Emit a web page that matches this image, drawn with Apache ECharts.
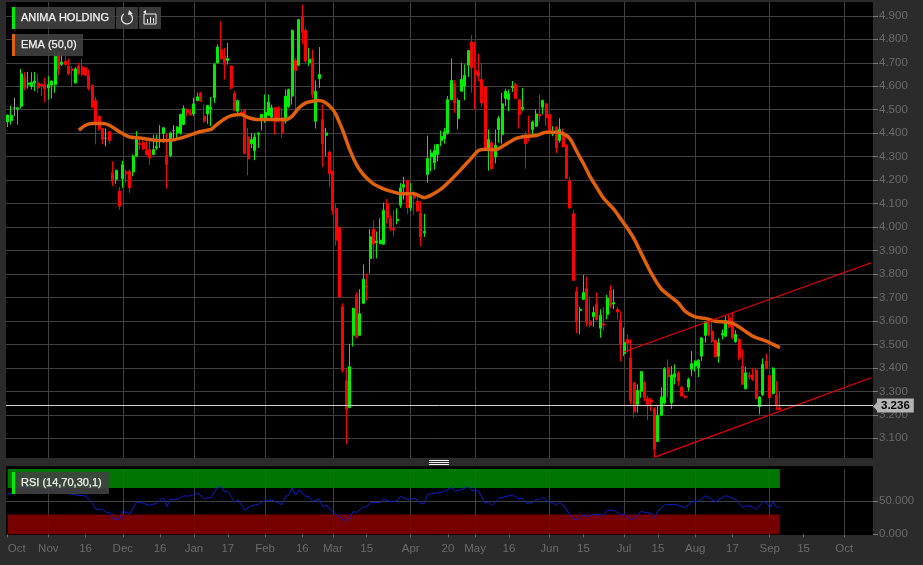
<!DOCTYPE html>
<html><head><meta charset="utf-8">
<script src="https://cdn.jsdelivr.net/npm/echarts@6/dist/echarts.min.js"></script>
<style>html,body{margin:0;padding:0;background:#2b2b2b}#c{width:923px;height:565px}</style>
</head><body><div id="c"></div>
<script>
const instrument = 'ANIMA HOLDING';
const lastPrice = 3.236;
const barSlots = 256;
const axisTickIndex = [0,12,23,34,45,55,65,76,87,96,106,119,130,138,148,160,170,182,192,203,214,225,235,247];
const axisTickLabel = ['Oct','Nov','16','Dec','16','Jan','17','Feb','16','Mar','15','Apr','20','May','16','Jun','15','Jul','15','Aug','17','Sep','15','Oct'];
const monthIndex = [12,34,55,76,96,119,138,160,182,203,225,247];
// [open, close, low, high]
const candles = [
[4.448,4.477,4.426,4.480],[4.454,4.477,4.437,4.517],[4.508,4.508,4.473,4.551],[4.502,4.508,4.437,4.508],
[4.515,4.653,4.505,4.674],[4.636,4.593,4.582,4.660],[4.607,4.614,4.590,4.661],[4.599,4.617,4.586,4.660],
[4.614,4.622,4.579,4.661],[4.614,4.593,4.572,4.653],[4.607,4.602,4.558,4.614],[4.607,4.590,4.532,4.636],
[4.593,4.607,4.543,4.643],[4.605,4.622,4.548,4.625],[4.607,4.728,4.572,4.749],[4.742,4.671,4.647,4.749],
[4.693,4.703,4.686,4.735],[4.707,4.693,4.686,4.728],[4.686,4.654,4.647,4.718],[4.674,4.667,4.600,4.686],
[4.614,4.674,4.612,4.681],[4.686,4.654,4.647,4.700],[4.683,4.650,4.643,4.718],[4.679,4.647,4.643,4.681],
[4.650,4.590,4.582,4.671],[4.603,4.511,4.508,4.607],[4.539,4.448,4.352,4.555],[4.473,4.418,4.411,4.473],
[4.420,4.373,4.352,4.420],[4.379,4.379,4.345,4.420],[4.406,4.369,4.355,4.409],[4.231,4.195,4.174,4.280],
[4.203,4.241,4.184,4.245],[4.153,4.089,4.075,4.170],[4.207,4.266,4.167,4.283],[4.235,4.227,4.188,4.245],
[4.238,4.167,4.146,4.245],[4.235,4.302,4.217,4.309],[4.302,4.373,4.302,4.409],[4.358,4.352,4.330,4.373],
[4.359,4.333,4.330,4.369],[4.326,4.309,4.306,4.366],[4.330,4.295,4.266,4.366],[4.309,4.330,4.306,4.394],
[4.337,4.343,4.330,4.394],[4.366,4.373,4.337,4.434],[4.399,4.423,4.359,4.426],[4.306,4.266,4.164,4.401],
[4.305,4.401,4.299,4.406],[4.411,4.411,4.373,4.434],[4.401,4.426,4.380,4.430],[4.401,4.480,4.394,4.483],
[4.437,4.505,4.434,4.519],[4.501,4.487,4.473,4.505],[4.486,4.480,4.473,4.501],[4.482,4.525,4.473,4.551],
[4.539,4.555,4.536,4.572],[4.572,4.536,4.533,4.576],[4.473,4.451,4.444,4.522],[4.482,4.518,4.440,4.519],
[4.503,4.509,4.430,4.554],[4.551,4.693,4.529,4.700],[4.700,4.767,4.697,4.778],[4.756,4.718,4.714,4.877],
[4.728,4.693,4.629,4.764],[4.710,4.718,4.693,4.785],[4.686,4.593,4.586,4.689],[4.569,4.497,4.494,4.579],
[4.494,4.539,4.482,4.543],[4.490,4.484,4.473,4.501],[4.497,4.313,4.312,4.501],[4.384,4.291,4.221,4.423],
[4.355,4.373,4.337,4.401],[4.326,4.384,4.285,4.401],[4.395,4.401,4.337,4.403],[4.458,4.480,4.411,4.481],
[4.458,4.490,4.444,4.565],[4.477,4.532,4.473,4.565],[4.468,4.508,4.451,4.522],[4.508,4.448,4.394,4.511],
[4.508,4.463,4.448,4.515],[4.465,4.401,4.380,4.508],[4.451,4.558,4.440,4.586],[4.515,4.586,4.508,4.590],
[4.558,4.838,4.522,4.842],[4.710,4.667,4.487,4.721],[4.690,4.884,4.686,4.885],[4.896,4.828,4.778,4.948],
[4.838,4.707,4.693,4.849],[4.700,4.714,4.686,4.764],[4.718,4.565,4.548,4.756],[4.451,4.579,4.420,4.625],
[4.633,4.650,4.593,4.767],[4.458,4.355,4.257,4.522],[4.391,4.401,4.302,4.423],[4.320,4.228,4.171,4.326],
[4.238,4.070,4.053,4.238],[4.080,3.944,3.920,4.100],[3.998,3.702,3.699,4.000],[3.661,3.390,3.380,3.675],
[3.344,3.224,3.074,3.398],[3.231,3.405,3.228,3.503],[3.539,3.654,3.491,3.656],[3.709,3.532,3.526,3.721],
[3.539,3.631,3.536,3.735],[3.675,3.778,3.674,3.841],[3.749,3.744,3.688,3.802],[3.866,3.959,3.802,3.991],
[3.991,3.927,3.863,4.029],[3.934,3.941,3.867,3.981],[3.929,3.944,3.929,4.038],[3.927,4.072,3.927,4.104],
[4.100,4.040,4.015,4.119],[4.036,3.995,3.984,4.050],[3.994,3.988,3.962,4.072],[4.027,4.033,4.012,4.080],
[4.093,4.167,4.082,4.188],[4.170,4.181,4.117,4.214],[4.198,4.082,4.056,4.198],[4.082,4.132,4.068,4.188],
[4.135,4.124,4.053,4.153],[4.110,4.068,4.065,4.142],[4.060,3.958,3.918,4.110],[3.976,3.982,3.958,4.056],
[4.224,4.292,4.188,4.390],[4.299,4.316,4.238,4.330],[4.274,4.326,4.245,4.352],[4.309,4.352,4.280,4.352],
[4.369,4.387,4.345,4.411],[4.377,4.406,4.355,4.423],[4.399,4.543,4.394,4.558],[4.543,4.625,4.540,4.718],
[4.610,4.529,4.487,4.625],[4.463,4.540,4.418,4.548],[4.579,4.629,4.576,4.700],[4.600,4.646,4.540,4.693],
[4.690,4.752,4.640,4.752],[4.789,4.679,4.572,4.818],[4.667,4.650,4.501,4.789],[4.661,4.643,4.622,4.739],
[4.629,4.529,4.511,4.700],[4.597,4.337,4.328,4.597],[4.337,4.373,4.241,4.416],[4.359,4.249,4.247,4.366],
[4.299,4.349,4.271,4.416],[4.416,4.463,4.359,4.473],[4.394,4.525,4.355,4.572],[4.548,4.579,4.515,4.590],
[4.543,4.568,4.494,4.586],[4.594,4.600,4.576,4.622],[4.607,4.548,4.546,4.614],[4.543,4.480,4.420,4.543],
[4.504,4.511,4.494,4.593],[4.391,4.355,4.249,4.409],[4.390,4.384,4.366,4.475],[4.416,4.448,4.391,4.454],
[4.430,4.482,4.426,4.501],[4.480,4.474,4.451,4.565],[4.511,4.539,4.480,4.543],[4.525,4.465,4.430,4.529],
[4.480,4.406,4.401,4.480],[4.400,4.406,4.387,4.430],[4.426,4.337,4.316,4.430],[4.369,4.416,4.359,4.463],
[4.401,4.342,4.340,4.420],[4.349,4.207,4.205,4.352],[4.198,4.082,4.079,4.214],[4.057,3.773,3.770,4.072],
[3.725,3.596,3.547,3.745],[3.644,3.650,3.543,3.660],[3.692,3.721,3.689,3.796],[3.738,3.593,3.576,3.789],
[3.600,3.582,3.572,3.704],[3.618,3.636,3.575,3.661],[3.671,3.607,3.603,3.721],[3.569,3.624,3.529,3.650],
[3.588,3.582,3.560,3.660],[3.628,3.697,3.607,3.711],[3.731,3.664,3.654,3.753],[3.672,3.678,3.650,3.735],
[3.650,3.638,3.607,3.660],[3.603,3.501,3.427,3.640],[3.461,3.508,3.450,3.572],[3.522,3.505,3.465,3.543],
[3.443,3.259,3.245,3.521],[3.337,3.212,3.188,3.337],[3.245,3.304,3.209,3.330],[3.301,3.384,3.273,3.387],
[3.337,3.273,3.259,3.344],[3.269,3.245,3.177,3.280],[3.262,3.255,3.216,3.273],[3.226,3.053,3.020,3.233],
[3.086,3.198,3.086,3.238],[3.198,3.276,3.195,3.318],[3.252,3.396,3.245,3.403],[3.401,3.361,3.273,3.436],
[3.250,3.370,3.226,3.408],[3.361,3.375,3.330,3.415],[3.379,3.344,3.323,3.386],[3.318,3.280,3.277,3.323],
[3.280,3.274,3.270,3.283],[3.318,3.351,3.301,3.358],[3.394,3.418,3.365,3.472],[3.408,3.429,3.384,3.432],
[3.401,3.433,3.361,3.436],[3.450,3.528,3.429,3.531],[3.538,3.596,3.507,3.599],[3.599,3.542,3.535,3.606],
[3.557,3.514,3.507,3.596],[3.517,3.448,3.443,3.521],[3.450,3.507,3.422,3.526],[3.540,3.547,3.521,3.564],
[3.535,3.602,3.531,3.620],[3.613,3.574,3.571,3.630],[3.596,3.528,3.521,3.637],[3.511,3.543,3.507,3.560],
[3.521,3.443,3.432,3.526],[3.408,3.330,3.327,3.479],[3.311,3.379,3.308,3.405],[3.368,3.362,3.351,3.382],
[3.370,3.351,3.344,3.401],[3.391,3.270,3.266,3.401],[3.235,3.276,3.202,3.280],[3.287,3.415,3.280,3.440],
[3.429,3.398,3.394,3.460],[3.368,3.273,3.228,3.370],[3.291,3.398,3.287,3.403],[3.283,3.242,3.219,3.344],
[3.230,3.223,3.219,3.299]
];
// [bar index, value]
const ema = [
[21,4.413],[23,4.434],[25,4.441],[28,4.441],[30,4.434],[33,4.406],[36,4.384],[39,4.380],[42,4.373],[45,4.369],
[48,4.370],[51,4.379],[54,4.393],[57,4.407],[60,4.416],[62,4.440],[64,4.461],[66,4.475],[69,4.480],[71,4.467],
[74,4.458],[78,4.458],[82,4.458],[84,4.473],[86,4.508],[88,4.529],[90,4.536],[92,4.539],[94,4.529],[96,4.501],
[97,4.477],[98,4.444],[99,4.409],[101,4.330],[103,4.266],[105,4.224],[108,4.184],[111,4.163],[114,4.149],[116,4.142],
[120,4.142],[123,4.125],[125,4.136],[128,4.163],[131,4.203],[134,4.248],[137,4.295],[139,4.326],[141,4.332],[144,4.330],
[147,4.352],[150,4.377],[153,4.387],[156,4.390],[159,4.404],[162,4.404],[164,4.398],[166,4.377],[168,4.323],[170,4.271],
[172,4.214],[174,4.167],[176,4.122],[179,4.075],[181,4.035],[183,3.994],[185,3.949],[187,3.890],[190,3.804],[193,3.736],
[198,3.677],[200,3.642],[203,3.617],[206,3.611],[209,3.599],[212,3.595],[214,3.591],[216,3.574],[218,3.554],[220,3.535],
[222,3.524],[224,3.514],[226,3.500],[228,3.486]
];
const upperTrend = [[182,3.469],[255,3.848]];
const lowerTrend = [[191,3.020],[255,3.358]];
const rsi = [
[0,61.1],[2,62.1],[3,68.2],[4,71.2],[6,69.7],[8,64.6],[10,63.1],[12,64.6],[14,70.7],[16,67.2],[18,62.1],[20,59.6],[23,58.1],
[25,47],[26,37.9],[28,37.9],[29,33.3],[30,33.3],[31,24.2],[33,21.7],[34,35.4],[35,32.8],[36,30.8],[38,48],[39,48.5],[42,43.9],
[44,47.5],[46,55],[47,41.9],[48,53],[50,53],[52,58.1],[54,58.1],[56,63.1],[58,54],[60,56],[62,70.7],[63,72.2],[64,64.6],[65,64.6],
[67,48.5],[68,52],[70,36.9],[72,43.4],[74,45.5],[76,51],[78,52],[81,44.9],[82,57],[83,59.6],[84,69.7],[85,59.6],[86,67.2],
[88,57.6],[89,57.1],[90,50],[92,53.5],[93,41.9],[94,44.4],[96,33.3],[98,26.8],[99,21.7],[100,21.2],[101,25.8],[102,34.3],[103,33.3],
[105,41.4],[106,41.4],[107,48],[110,48],[111,53.5],[113,49.5],[115,50.5],[116,57.6],[118,52.5],[120,54.5],[121,52],[122,46],[123,47],
[124,60.6],[126,62.1],[129,64.6],[131,71.2],[132,65.2],[134,67.7],[136,72.2],[137,66.7],[139,65.7],[141,47],[142,48.5],[143,43.4],
[145,54.5],[149,59.6],[151,53.5],[152,54.5],[153,47],[155,48],[156,53],[157,53],[158,56],[160,47.5],[161,48],[162,43.9],[163,48.5],
[164,44.4],[167,23.2],[168,22.2],[170,29.8],[171,26.8],[173,30.3],[176,28.8],[177,36.4],[179,36.4],[181,30],[182,30.5],[184,23],
[185,24],[187,34.5],[189,32.5],[190,31.5],[191,25.5],[192,35.5],[194,44.5],[197,45.5],[200,40.5],[202,49],[204,50.5],[206,58.5],
[209,49.5],[212,58.5],[215,53],[217,40.5],[218,43.5],[220,41.5],[221,37.5],[223,49.5],[224,48.5],[225,40.5],[226,49],[227,41.5],[228,40.5]
];
const rsiBands = [[70,100,'#008000'],[0,30,'#800000']];

const FONT = '"Liberation Sans", Arial, sans-serif';
const PANEL = '#2b2b2b', GRID = '#404040', AXIS_TEXT = '#6b6b6b';
const categories = Array.from({length: barSlots}, (_, i) => String(i));
const labelAt = new Map(axisTickIndex.map((v, k) => [v, axisTickLabel[k]]));
const lastBar = candles.length - 1;

const gridLines = () => ({
  silent: true, symbol: 'none', animation: false, z: 1,
  label: {show: false},
  lineStyle: {color: GRID, width: 1, type: 'solid'},
  data: monthIndex.map(i => ({xAxis: i}))
});

const chart = echarts.init(document.getElementById('c'), null, {renderer: 'canvas'});

function chip(x, y, w, h, stripe, text) {
  return [
    {type: 'rect', z: 200, shape: {x, y, width: w, height: h}, style: {fill: 'rgba(66,66,66,0.88)'}},
    {type: 'rect', z: 201, shape: {x, y, width: 3, height: h}, style: {fill: stripe}},
    {type: 'text', z: 202, x: x + 9, y: y + h / 2, style: {text, fill: '#f2f2f2', font: '11px ' + FONT, verticalAlign: 'middle', stroke: '#f2f2f2', lineWidth: 0.25}}
  ];
}

chart.setOption({
  animation: false,
  backgroundColor: PANEL,
  textStyle: {fontFamily: FONT},
  grid: [
    {left: 6, right: 50, top: 1, bottom: 103.23, show: true, backgroundColor: '#000', borderWidth: 0},
    {left: 6, right: 50, top: 468.3, bottom: 30.7, show: true, backgroundColor: '#000', borderWidth: 0}
  ],
  xAxis: [
    {type: 'category', gridIndex: 0, data: categories, boundaryGap: true,
     axisLine: {show: false}, axisTick: {show: false}, axisLabel: {show: false}, splitLine: {show: false}},
    {type: 'category', gridIndex: 1, data: categories, boundaryGap: true,
     axisLine: {show: true, lineStyle: {color: '#000', width: 1}},
     axisTick: {show: true, alignWithLabel: true, length: 3, interval: i => labelAt.has(i), lineStyle: {color: '#6a6a6a'}},
     axisLabel: {show: true, interval: i => labelAt.has(i), formatter: (v, i) => labelAt.get(i) || '',
       color: AXIS_TEXT, fontSize: 11.5, fontFamily: FONT, margin: 9, alignMinLabel: 'left', hideOverlap: false},
     splitLine: {show: false}}
  ],
  yAxis: [
    {type: 'value', gridIndex: 0, position: 'right', min: 3, max: 4.9633, interval: 0.1,
     axisLine: {show: false},
     axisTick: {show: true, length: 5, lineStyle: {color: '#7a7a7a'}},
     axisLabel: {show: true, showMinLabel: false, showMaxLabel: false, formatter: v => v.toFixed(3), color: AXIS_TEXT, fontSize: 11.5, fontFamily: FONT, margin: 6},
     splitLine: {show: true, lineStyle: {color: GRID, width: 1}}},
    {type: 'value', gridIndex: 1, position: 'right', min: 0, max: 100, interval: 50,
     axisLine: {show: false},
     axisTick: {show: true, length: 5, lineStyle: {color: '#7a7a7a'}},
     axisLabel: {show: true, showMaxLabel: false, formatter: v => v.toFixed(3), color: AXIS_TEXT, fontSize: 11.5, fontFamily: FONT, margin: 6},
     splitLine: {show: true, lineStyle: {color: GRID, width: 1}}}
  ],
  series: [
    {type: 'line', name: 'gridA', xAxisIndex: 0, yAxisIndex: 0, data: [], z: 1, markLine: gridLines()},
    {type: 'line', name: 'gridB', xAxisIndex: 1, yAxisIndex: 1, data: [], z: 1, markLine: gridLines()},
    {type: 'candlestick', name: instrument, xAxisIndex: 0, yAxisIndex: 0, data: candles, barWidth: 2.5, z: 3, clip: false,
     itemStyle: {color: '#00ee00', color0: '#ff0000', borderColor: '#00ee00', borderColor0: '#ff0000', borderColorDoji: '#9a9a9a', borderWidth: 1}},
    {type: 'line', name: 'EMA', xAxisIndex: 0, yAxisIndex: 0, data: ema, showSymbol: false, smooth: 0.25, z: 4,
     lineStyle: {color: '#e0600c', width: 3.5}, itemStyle: {color: '#e0600c'}},
    {type: 'line', name: 'upper', xAxisIndex: 0, yAxisIndex: 0, data: upperTrend, showSymbol: false, z: 5, lineStyle: {color: '#f00000', width: 1.2}},
    {type: 'line', name: 'lower', xAxisIndex: 0, yAxisIndex: 0, data: lowerTrend, showSymbol: false, z: 5, lineStyle: {color: '#f00000', width: 1.2}},
    {type: 'line', name: 'last', xAxisIndex: 0, yAxisIndex: 0, data: [], z: 6,
     markLine: {silent: true, symbol: 'none', animation: false, z: 6,
       lineStyle: {color: '#d0d0d0', width: 1, type: 'solid'},
       label: {show: true, position: 'end', distance: 4, formatter: () => lastPrice.toFixed(3), color: '#000', backgroundColor: '#b4b4b4',
         fontSize: 11.5, fontWeight: 'bold', fontFamily: FONT, padding: [1, 4, 0, 4], height: 13, lineHeight: 13},
       data: [{yAxis: lastPrice}]}},
    {type: 'line', name: 'bands', xAxisIndex: 1, yAxisIndex: 1, data: [], z: 2,
     markArea: {silent: true, animation: false, z: 2, data: rsiBands.map(b => [
       {xAxis: 0, yAxis: b[0], itemStyle: {color: b[2], opacity: 0.92}}, {xAxis: lastBar, yAxis: b[1]}])}},
    {type: 'line', name: 'RSI', xAxisIndex: 1, yAxisIndex: 1, data: rsi, showSymbol: false, z: 4, lineStyle: {color: '#0a1fd0', width: 1}}
  ],
  graphic: [
    {type: 'rect', z: 100, shape: {x: 0, y: 0, width: 923, height: 2}, style: {fill: PANEL}},
    {type: 'rect', z: 100, shape: {x: 0, y: 458, width: 923, height: 8}, style: {fill: PANEL}},
    {type: 'rect', z: 100, shape: {x: 6, y: 466, width: 867, height: 3}, style: {fill: '#000'}},
    {type: 'rect', z: 101, shape: {x: 429, y: 460, width: 20, height: 1}, style: {fill: '#f0f0f0'}},
    {type: 'rect', z: 101, shape: {x: 429, y: 462, width: 20, height: 1}, style: {fill: '#f0f0f0'}},
    {type: 'rect', z: 101, shape: {x: 429, y: 464, width: 20, height: 1}, style: {fill: '#f0f0f0'}},
    ...chip(12, 7, 103, 22, '#00ee00', instrument),
    ...chip(12, 34, 71, 22, '#e0600c', 'EMA (50,0)'),
    ...chip(12, 472, 97, 22, '#00ee00', 'RSI (14,70,30,1)'),
    {type: 'rect', z: 200, shape: {x: 116, y: 7, width: 22, height: 22}, style: {fill: 'rgba(66,66,66,0.88)'}},
    {type: 'rect', z: 200, shape: {x: 139, y: 7, width: 22, height: 22}, style: {fill: 'rgba(66,66,66,0.88)'}},
    {type: 'arc', z: 202, shape: {cx: 127, cy: 18.5, r: 5.5, startAngle: -0.9, endAngle: 4.1}, style: {stroke: '#eee', lineWidth: 1.2, fill: 'none'}},
    {type: 'polygon', z: 202, shape: {points: [[129, 10], [133, 14], [128, 15]]}, style: {fill: '#eee'}},
    {type: 'polyline', z: 202, shape: {points: [[144, 14], [156, 14], [156, 24], [144, 24], [144, 14]]}, style: {stroke: '#eee', lineWidth: 1, fill: 'none'}},
    {type: 'polyline', z: 202, shape: {points: [[147.5, 23], [147.5, 19]]}, style: {stroke: '#eee', lineWidth: 1}},
    {type: 'polyline', z: 202, shape: {points: [[150.5, 23], [150.5, 17]]}, style: {stroke: '#eee', lineWidth: 1}},
    {type: 'polyline', z: 202, shape: {points: [[153.5, 23], [153.5, 18]]}, style: {stroke: '#eee', lineWidth: 1}},
    {type: 'polygon', z: 202, shape: {points: [[143, 12], [146, 10], [146, 14]]}, style: {fill: '#eee'}}
  ]
});

const py = chart.convertToPixel({yAxisIndex: 0}, lastPrice);
chart.setOption({graphic: [{type: 'polygon', id: 'lastArrow', z: 101, shape: {points: [[873, py], [877, py - 4], [877, py + 4]]}, style: {fill: '#b4b4b4'}}]});
</script></body></html>
